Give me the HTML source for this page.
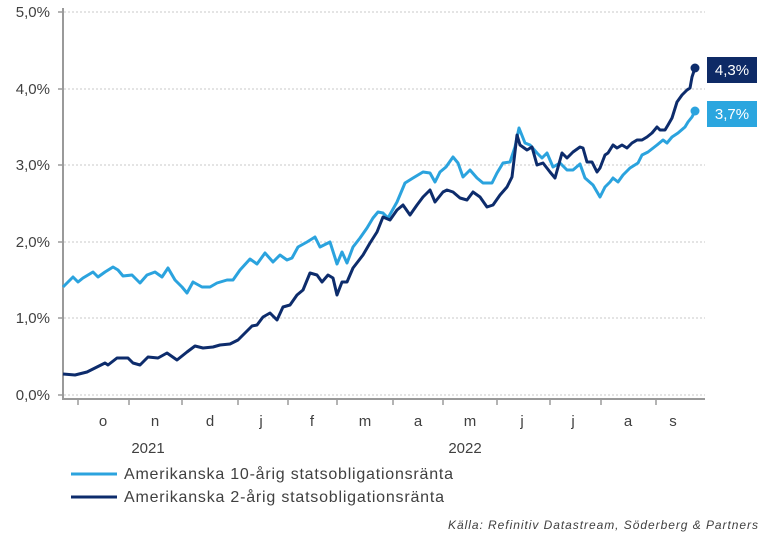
<!DOCTYPE html>
<html><head><meta charset="utf-8"><style>
html,body{margin:0;padding:0;background:#fff;}
svg{display:block;}
text{font-family:"Liberation Sans",Arial,sans-serif;}
</style></head><body>
<svg width="767" height="539" viewBox="0 0 767 539" xmlns="http://www.w3.org/2000/svg">
<rect width="767" height="539" fill="#fff"/>
<g stroke="#c9c9c9" stroke-width="1" stroke-dasharray="2,2">
<line x1="64" y1="12" x2="705" y2="12"/>
<line x1="64" y1="89" x2="705" y2="89"/>
<line x1="64" y1="165" x2="705" y2="165"/>
<line x1="64" y1="242" x2="705" y2="242"/>
<line x1="64" y1="318" x2="705" y2="318"/>
<line x1="64" y1="395" x2="705" y2="395"/>
</g>
<g stroke="#9a9a9a" stroke-width="2">
<line x1="63" y1="8" x2="63" y2="400"/>
<line x1="62" y1="399" x2="705" y2="399"/>
</g>
<g stroke="#9a9a9a" stroke-width="1.5">
<line x1="58" y1="12" x2="63" y2="12"/>
<line x1="58" y1="89" x2="63" y2="89"/>
<line x1="58" y1="165" x2="63" y2="165"/>
<line x1="58" y1="242" x2="63" y2="242"/>
<line x1="58" y1="318" x2="63" y2="318"/>
<line x1="58" y1="395" x2="63" y2="395"/>
<line x1="78" y1="399" x2="78" y2="405"/>
<line x1="129" y1="399" x2="129" y2="405"/>
<line x1="182" y1="399" x2="182" y2="405"/>
<line x1="238" y1="399" x2="238" y2="405"/>
<line x1="288" y1="399" x2="288" y2="405"/>
<line x1="337" y1="399" x2="337" y2="405"/>
<line x1="393" y1="399" x2="393" y2="405"/>
<line x1="443" y1="399" x2="443" y2="405"/>
<line x1="497" y1="399" x2="497" y2="405"/>
<line x1="550" y1="399" x2="550" y2="405"/>
<line x1="601" y1="399" x2="601" y2="405"/>
<line x1="656" y1="399" x2="656" y2="405"/>
</g>
<g font-size="15" fill="#404040" text-anchor="end">
<text x="50" y="17">5,0%</text>
<text x="50" y="94">4,0%</text>
<text x="50" y="170">3,0%</text>
<text x="50" y="247">2,0%</text>
<text x="50" y="323">1,0%</text>
<text x="50" y="400">0,0%</text>
</g>
<g font-size="15" fill="#404040" text-anchor="middle">
<text x="103" y="426">o</text>
<text x="155" y="426">n</text>
<text x="210" y="426">d</text>
<text x="261" y="426">j</text>
<text x="312" y="426">f</text>
<text x="365" y="426">m</text>
<text x="418" y="426">a</text>
<text x="470" y="426">m</text>
<text x="522" y="426">j</text>
<text x="573" y="426">j</text>
<text x="628" y="426">a</text>
<text x="673" y="426">s</text>
<text x="148" y="453">2021</text>
<text x="465" y="453">2022</text>
</g>
<polyline fill="none" stroke="#2ba3de" stroke-width="3" stroke-linejoin="round" points="63,287 73,277 78,282 83,278 93,272 98,277 105,272 113,267 118,270 123,276 132,275 140,283 147,275 155,272 162,277 168,268 175,280 182,287 187,293 193,282 202,287 210,287 217,283 227,280 233,280 240,270 250,259 257,264 265,253 273,262 280,255 287,260 292,258 298,247 307,242 315,237 320,247 330,242 337,264 342,252 347,263 353,247 360,238 367,228 373,218 378,212 383,213 388,218 397,202 405,183 413,178 423,172 430,173 435,182 440,172 446,167 453,157 458,163 463,177 470,170 477,178 483,183 492,183 497,173 503,163 510,162 515,147 519,128 525,143 530,145 537,153 542,158 547,153 553,167 560,163 567,170 573,170 580,164 585,178 593,185 600,197 605,187 610,182 613,178 618,182 623,175 630,168 638,163 642,155 648,152 657,145 663,140 667,143 672,137 678,133 685,127 688,122 692,117 695,111"/>
<polyline fill="none" stroke="#0d2c6c" stroke-width="3" stroke-linejoin="round" points="63,374 75,375 87,372 97,367 105,363 108,365 117,358 128,358 133,363 140,365 148,357 158,358 167,353 177,360 187,352 195,346 203,348 213,347 220,345 230,344 238,340 245,333 252,326 257,325 260,321 263,317 270,313 277,320 283,307 290,305 297,295 303,290 310,273 317,275 322,282 328,275 333,278 337,295 342,282 347,282 353,268 363,255 370,243 377,232 383,217 390,220 397,210 403,205 410,215 417,205 423,197 430,190 435,202 443,192 447,190 453,192 460,198 467,200 473,192 480,197 487,207 493,205 500,195 507,187 512,177 517,135 520,145 527,150 532,147 537,165 543,163 550,172 555,178 562,153 567,158 573,152 580,147 583,148 587,162 592,162 597,172 600,168 605,155 608,153 613,145 617,148 622,145 627,148 632,143 637,140 642,140 647,137 652,133 657,127 660,130 665,130 668,125 672,118 677,102 682,95 687,90 690,88 692,77 695,68"/>
<circle cx="695" cy="68" r="4.5" fill="#0d2c6c"/>
<circle cx="695" cy="111" r="4.5" fill="#2ba3de"/>
<rect x="707" y="57" width="50" height="26" fill="#0e2a66"/>
<rect x="707" y="101" width="50" height="26" fill="#2ba6df"/>
<g font-size="15" fill="#fff" text-anchor="middle">
<text x="732" y="75">4,3%</text>
<text x="732" y="119">3,7%</text>
</g>
<line x1="71" y1="474" x2="117" y2="474" stroke="#2ba3de" stroke-width="3"/>
<line x1="71" y1="497" x2="117" y2="497" stroke="#0d2c6c" stroke-width="3"/>
<g font-size="16" fill="#404040">
<text x="124" y="479" textLength="329" lengthAdjust="spacing">Amerikanska 10-årig statsobligationsränta</text>
<text x="124" y="502" textLength="320" lengthAdjust="spacing">Amerikanska 2-årig statsobligationsränta</text>
</g>
<text x="448" y="529" font-size="12" font-style="italic" fill="#404040" textLength="310" lengthAdjust="spacing">Källa: Refinitiv Datastream, Söderberg &amp; Partners</text>
</svg>
</body></html>
